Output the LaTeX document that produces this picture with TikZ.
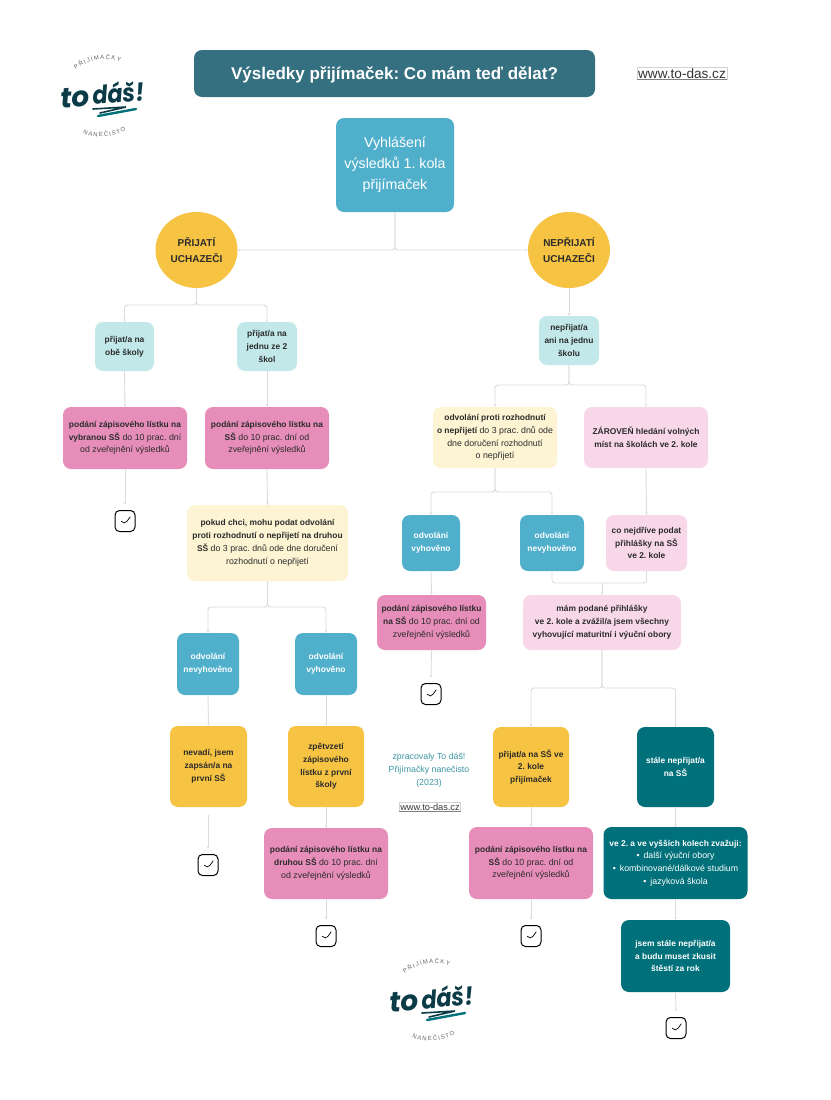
\documentclass[tikz,border=0pt]{standalone}
\usepackage{fontspec}
\setmainfont{Liberation Sans}
\newfontfamily\logofont{Poppins}
\usetikzlibrary{arrows.meta,shapes.geometric,decorations.text}
\definecolor{titleteal}{HTML}{34707F}
\definecolor{skyblue}{HTML}{50B0CC}
\definecolor{sunyellow}{HTML}{F6C342}
\definecolor{paleteal}{HTML}{C2E8EA}
\definecolor{strongpink}{HTML}{E68DBA}
\definecolor{palepink}{HTML}{F8D8E8}
\definecolor{cream}{HTML}{FDF4D3}
\definecolor{darkteal}{HTML}{00707A}
\definecolor{logodark}{HTML}{0B3B47}
\definecolor{creditteal}{HTML}{3B95A3}
\definecolor{linegrey}{HTML}{DCDCDC}
\definecolor{inktext}{HTML}{2B2B2B}
\newcommand{\bt}[1]{{\fontsize{8.4}{12.8}\selectfont\bfseries #1}}
\tikzset{
	textdrop/.style={execute at begin node={\rule{0pt}{#1}}},
	boxbase/.style={rounded corners=8pt, inner sep=0pt, align=center, text=inktext, font=\fontsize{8.8}{12.8}\selectfont, textdrop=8.5pt},
	lighttealbox/.style={boxbase, fill=paleteal},
	pinkbox/.style={boxbase, fill=strongpink},
	lightpinkbox/.style={boxbase, fill=palepink},
	creambox/.style={boxbase, fill=cream},
	bluebox/.style={boxbase, fill=skyblue, text=white},
	yellowbox/.style={boxbase, fill=sunyellow},
	tealbox/.style={boxbase, fill=darkteal, text=white},
	roundnode/.style={ellipse, fill=sunyellow, inner sep=0pt, minimum width=82, minimum height=76, align=center, text=inktext, font=\fontsize{10}{16}\selectfont\bfseries},
	linkbox/.style={draw=gray!35, line width=0.4pt, inner sep=1pt, text=black!80},
	linkline/.style={draw=gray, line width=0.6pt},
	conn/.style={draw=linegrey, line width=0.9pt, rounded corners=3pt},
	connarrow/.style={conn, -{Stealth[length=2.5pt,width=2.5pt]}},
	checkbox/.style={draw=black, line width=1pt, rounded corners=4.5pt, minimum width=20, minimum height=21, inner sep=0pt, outer sep=6pt,
		path picture={\draw[line width=0.7pt] ([shift={(-3.7,0)}]path picture bounding box.center) -- ++(3,4) -- ++(6,-8.3);}},
	logo/.pic={
		\path[decorate, decoration={text along path, text align={fit to path}, text={|\fontsize{6}{6}\selectfont\color{black!60}|PŘIJÍMAČKY}}] (-26,-27) .. controls (-15,-37) and (6,-41) .. (18,-35);
		\path[decorate, decoration={text along path, text align={fit to path}, text={|\fontsize{6}{6}\selectfont\color{black!60}|NANEČISTO}}] (-19,36) .. controls (-8,42) and (12,41) .. (24,33);
		\node[rotate=5, text=logodark, inner sep=0pt, font=\fontsize{28}{28}\logofont\bfseries\itshape] (-to) at (-27,1) {to};
		\node[rotate=5, xscale=0.9, text=logodark, inner sep=0pt, font=\fontsize{25}{25}\logofont\bfseries\itshape] (-das) at (16.5,-4.5) {dáš!};
		\draw[logodark, line width=1.6pt, line cap=round] (-9,12) -- (24,10) -- (-2,16);
		\draw[darkteal, line width=2.4pt, line cap=round] (-4,19) -- (34,12);
	}
}
\begin{document}
\frenchspacing
\begin{tikzpicture}[x=1pt,y=-1pt]
	\useasboundingbox (0,0) rectangle (830,1100);
	\fill[white] (0,0) rectangle (830,1100);

	\pic (logotop) at (102,97) {logo};
	\pic (logobottom) at (431,1001) {logo};

	\node[boxbase, textdrop=16.5pt, fill=titleteal, text=white, minimum width=401, minimum height=47, font=\fontsize{17}{20}\selectfont\bfseries] (title) at (394.5,73.5) {Výsledky přijímaček: Co mám teď dělat?};
	\node[linkbox, font=\fontsize{13.6}{15}\selectfont] (webtop) at (682,73.5) {www.to-das.cz};
	\draw[linkline] (webtop.south west) -- (webtop.south east);

	\node[bluebox, textdrop=14.2pt, minimum width=118, minimum height=94, font=\fontsize{14.2}{21}\selectfont] (results) at (395,165) {Vyhlášení\\výsledků 1. kola\\přijímaček};
	\node[roundnode] (accepted) at (196.5,250) {PŘIJATÍ\\UCHAZEČI};
	\node[roundnode] (rejected) at (569,250) {NEPŘIJATÍ\\UCHAZEČI};

	\node[lighttealbox, minimum width=59, minimum height=49] (both) at (124.5,346.5) {\bt{přijat/a na}\\\bt{obě školy}};
	\node[lighttealbox, minimum width=60, minimum height=49] (oneoftwo) at (267,346.5) {\bt{přijat/a na}\\\bt{jednu ze 2}\\\bt{škol}};
	\node[lighttealbox, minimum width=60, minimum height=49] (noschool) at (569,340.5) {\bt{nepřijat/a}\\\bt{ani na jednu}\\\bt{školu}};

	\node[pinkbox, minimum width=124, minimum height=62] (enrolchosen) at (125,438) {\bt{podání zápisového lístku na}\\\bt{vybranou SŠ} do 10 prac. dní\\od zveřejnění výsledků};
	\node[pinkbox, minimum width=124, minimum height=62] (enrolone) at (267,438) {\bt{podání zápisového lístku na}\\\bt{SŠ} do 10 prac. dní  od\\zveřejnění výsledků};
	\node[creambox, minimum width=124, minimum height=61] (appeal) at (495,437.5) {\bt{odvolání proti rozhodnutí}\\\bt{o nepřijetí} do 3 prac. dnů ode\\dne doručení rozhodnutí\\o nepřijetí};
	\node[lightpinkbox, minimum width=124, minimum height=61] (search) at (646,437.5) {\bt{ZÁROVEŇ hledání volných}\\\bt{míst na školách ve 2. kole}};

	\node[checkbox] (checkA) at (125,521) {};
	\node[creambox, minimum width=161, minimum height=76] (appealtwo) at (267.5,543) {\bt{pokud chci, mohu podat odvolání}\\\bt{proti rozhodnutí o nepřijetí na druhou}\\\bt{SŠ}  do 3 prac. dnů ode dne doručení\\rozhodnutí o nepřijetí};

	\node[bluebox, minimum width=58, minimum height=56] (granted) at (431,543) {\bt{odvolání}\\\bt{vyhověno}};
	\node[bluebox, minimum width=64, minimum height=56] (denied) at (552,543) {\bt{odvolání}\\\bt{nevyhověno}};
	\node[lightpinkbox, minimum width=81, minimum height=56] (apply) at (646.5,543) {\bt{co nejdříve podat}\\\bt{přihlášky na SŠ}\\\bt{ve 2. kole}};

	\node[pinkbox, minimum width=109, minimum height=55] (enrolgranted) at (431.5,622.5) {\bt{podání zápisového lístku}\\\bt{na SŠ} do 10 prac. dní  od\\zveřejnění výsledků};
	\node[lightpinkbox, minimum width=158, minimum height=55] (applied) at (602,622.5) {\bt{mám podané přihlášky}\\\bt{ve 2. kole a zvážil/a jsem všechny}\\\bt{vyhovující  maturitní i výuční obory}};

	\node[bluebox, minimum width=62, minimum height=62] (deniedtwo) at (208,664) {\bt{odvolání}\\\bt{nevyhověno}};
	\node[bluebox, minimum width=62, minimum height=62] (grantedtwo) at (326,664) {\bt{odvolání}\\\bt{vyhověno}};
	\node[checkbox] (checkB) at (431,694) {};

	\node[yellowbox, minimum width=77, minimum height=81] (stay) at (208.5,766.5) {\bt{nevadí, jsem}\\\bt{zapsán/a na}\\\bt{první SŠ}};
	\node[yellowbox, minimum width=76, minimum height=81] (withdraw) at (326,766.5) {\bt{zpětvzetí}\\\bt{zápisového}\\\bt{lístku z první}\\\bt{školy}};
	\node[yellowbox, minimum width=76, minimum height=80] (second) at (531,767) {\bt{přijat/a na SŠ ve}\\\bt{2. kole}\\\bt{přijímaček}};
	\node[tealbox, minimum width=77, minimum height=80] (still) at (675.5,767) {\bt{stále nepřijat/a}\\\bt{na SŠ}};

	\node[inner sep=0pt, align=center, text=creditteal, font=\fontsize{8.8}{12.8}\selectfont] (credit) at (429,770) {zpracovaly To dáš!\\Přijímačky nanečisto\\(2023)};
	\node[linkbox, font=\fontsize{9.2}{11}\selectfont] (webbottom) at (430,807) {www.to-das.cz};
	\draw[linkline] (webbottom.south west) -- (webbottom.south east);

	\node[pinkbox, minimum width=124, minimum height=71] (enroltwo) at (326,863.5) {\bt{podání zápisového lístku na}\\\bt{druhou SŠ} do 10 prac. dní\\od zveřejnění výsledků};
	\node[pinkbox, minimum width=124, minimum height=72] (enrolsecond) at (531,863) {\bt{podání zápisového lístku na}\\\bt{SŠ} do 10 prac. dní od\\zveřejnění výsledků};
	\node[tealbox, minimum width=144, minimum height=72] (options) at (675.5,863) {\bt{ve 2. a ve vyšších kolech zvažuji:}\\•\hspace{4pt}další výuční obory\\•\hspace{4pt}kombinované/dálkové studium\\•\hspace{4pt}jazyková škola};
	\node[checkbox] (checkC) at (208,865) {};
	\node[checkbox] (checkD) at (326,936) {};
	\node[checkbox] (checkE) at (531,936) {};
	\node[tealbox, minimum width=109, minimum height=72] (nextyear) at (675.5,956) {\bt{jsem stále nepřijat/a}\\\bt{a budu muset zkusit}\\\bt{štěstí za rok}};
	\node[checkbox] (checkF) at (676,1028) {};

	\coordinate (forkA) at (196.5,305);
	\coordinate (forkB) at (569,385);
	\coordinate (forkC) at (495,492);
	\coordinate (forkD) at (267.5,607);
	\coordinate (forkE) at (602,583);
	\coordinate (forkF) at (602,688);
	\coordinate (gapC) at (208,815);

	\draw[connarrow] (results.south) |- (accepted.east);
	\draw[connarrow] (results.south) |- (rejected.west);
	\draw[connarrow] (accepted.south) -- (forkA) -| (both.north);
	\draw[connarrow] (accepted.south) -- (forkA) -| (oneoftwo.north);
	\draw[connarrow] (rejected.south) -- (noschool.north);
	\draw[connarrow] (noschool.south) -- (forkB) -| (appeal.north);
	\draw[connarrow] (noschool.south) -- (forkB) -| (search.north);
	\draw[connarrow] (both.south) -- (enrolchosen.north);
	\draw[connarrow] (oneoftwo.south) -- (enrolone.north);
	\draw[connarrow] (enrolone.south) -- (appealtwo.north);
	\draw[connarrow] (enrolchosen.south) -- (checkA.north);
	\draw[connarrow] (appeal.south) -- (forkC) -| (granted.north);
	\draw[connarrow] (appeal.south) -- (forkC) -| (denied.north);
	\draw[connarrow] (search.south) -- (apply.north);
	\draw[connarrow] (granted.south) -- (enrolgranted.north);
	\draw[conn] (denied.south) |- (forkE);
	\draw[conn] (apply.south) |- (forkE);
	\draw[connarrow] (forkE) -- (applied.north);
	\draw[connarrow] (enrolgranted.south) -- (checkB.north);
	\draw[connarrow] (appealtwo.south) -- (forkD) -| (deniedtwo.north);
	\draw[connarrow] (appealtwo.south) -- (forkD) -| (grantedtwo.north);
	\draw[connarrow] (deniedtwo.south) -- (stay.north);
	\draw[connarrow] (grantedtwo.south) -- (withdraw.north);
	\draw[connarrow] (withdraw.south) -- (enroltwo.north);
	\draw[connarrow] (gapC) -- (checkC.north);
	\draw[connarrow] (enroltwo.south) -- (checkD.north);
	\draw[connarrow] (applied.south) -- (forkF) -| (second.north);
	\draw[connarrow] (applied.south) -- (forkF) -| (still.north);
	\draw[connarrow] (second.south) -- (enrolsecond.north);
	\draw[connarrow] (still.south) -- (options.north);
	\draw[connarrow] (enrolsecond.south) -- (checkE.north);
	\draw[connarrow] (options.south) -- (nextyear.north);
	\draw[connarrow] (nextyear.south) -- (checkF.north);
\end{tikzpicture}
\end{document}
